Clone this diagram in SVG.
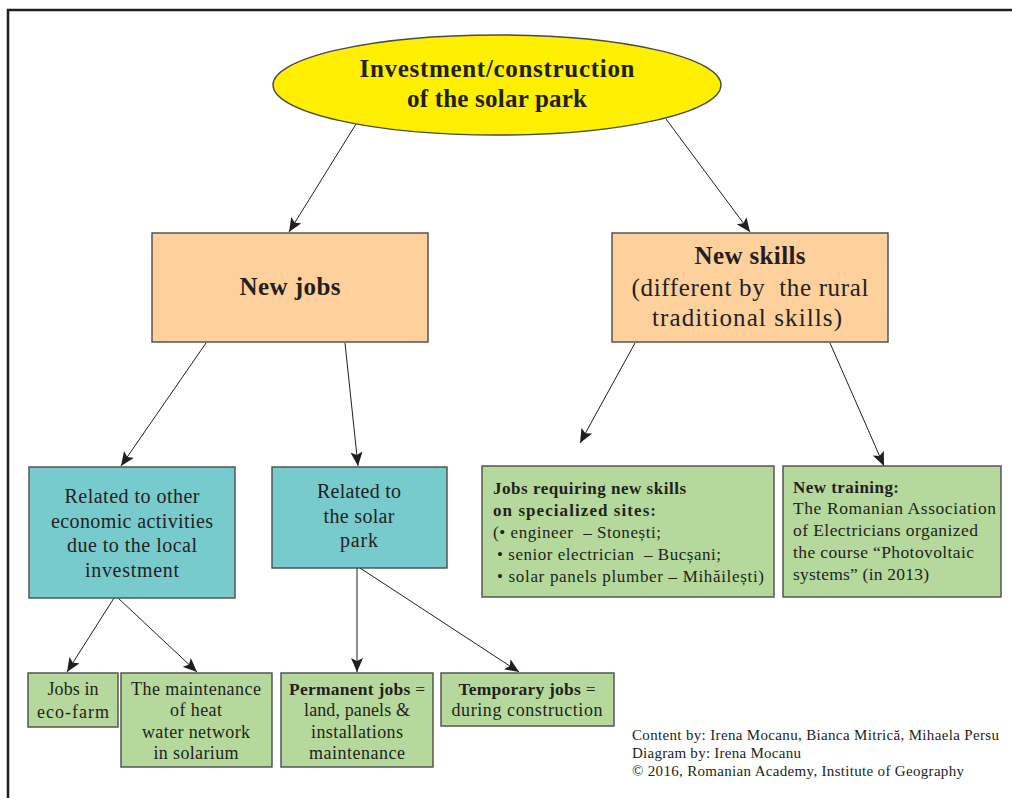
<svg xmlns="http://www.w3.org/2000/svg" width="1012" height="798" viewBox="0 0 1012 798">
<style>
text{font-family:"Liberation Serif","Times New Roman",serif;fill:#231f20;white-space:pre}
.b{font-weight:bold}
.c{text-anchor:middle}
.box{stroke:#4a4a4a;stroke-width:1.4}
.or{fill:#fed09c}
.te{fill:#78cbcd}
.gr{fill:#b5d99c}
.con{stroke:#231f20;stroke-width:1;fill:none;marker-end:url(#ah)}
</style>
<defs>
<marker id="ah" markerUnits="userSpaceOnUse" viewBox="0 0 14 12" markerWidth="14" markerHeight="12" refX="14" refY="6" orient="auto">
<path d="M0,0 L14,6 L0,12 L3,6 Z" fill="#231f20"/>
</marker>
</defs>
<rect width="1012" height="798" fill="#fff"/>
<path d="M8,800 L8,10 L1014,10" fill="none" stroke="#231f20" stroke-width="2.5"/>

<g id="connectors">
<line class="con" x1="356" y1="124" x2="289" y2="232"/>
<line class="con" x1="666" y1="119" x2="750" y2="232"/>
<line class="con" x1="206" y1="343" x2="121" y2="466"/>
<line class="con" x1="345" y1="343" x2="358" y2="466"/>
<line class="con" x1="635" y1="343" x2="580" y2="443"/>
<line class="con" x1="830" y1="343" x2="884" y2="466"/>
<line class="con" x1="114" y1="598" x2="67" y2="672"/>
<line class="con" x1="118" y1="598" x2="197" y2="672"/>
<line class="con" x1="357" y1="568" x2="357" y2="672"/>
<line class="con" x1="360" y1="568" x2="519" y2="672"/>
</g>

<g id="root">
<ellipse cx="497" cy="85" rx="224" ry="50" fill="#ffef00" stroke="#4a4a4a" stroke-width="1.4"/>
<text class="b c" x="497" y="77" font-size="25" textLength="275">Investment/construction</text>
<text class="b c" x="497" y="107" font-size="25" textLength="180">of the solar park</text>
</g>

<g id="new-jobs">
<rect class="box or" x="152" y="233" width="276" height="109"/>
<text class="b c" x="290" y="295" font-size="25" textLength="101">New jobs</text>
</g>

<g id="new-skills">
<rect class="box or" x="612" y="233" width="276" height="109"/>
<text class="b c" x="750" y="264" font-size="25" textLength="111">New skills</text>
<text class="c" x="750" y="296" font-size="25" textLength="237">(different by  the rural</text>
<text class="c" x="747" y="326" font-size="25" textLength="190">traditional skills)</text>
</g>

<g id="related-other">
<rect class="box te" x="29" y="467" width="206" height="131"/>
<text class="c" x="132" y="503" font-size="20" textLength="135">Related to other</text>
<text class="c" x="132" y="528" font-size="20" textLength="162">economic activities</text>
<text class="c" x="132" y="552" font-size="20" textLength="130">due to the local</text>
<text class="c" x="132" y="577" font-size="20" textLength="94">investment</text>
</g>

<g id="related-solar">
<rect class="box te" x="272" y="467" width="175" height="101"/>
<text class="c" x="359" y="498" font-size="20" textLength="84">Related to</text>
<text class="c" x="359" y="523" font-size="20" textLength="71">the solar</text>
<text class="c" x="359" y="547" font-size="20" textLength="38">park</text>
</g>

<g id="jobs-new-skills">
<rect class="box gr" x="482" y="466" width="292" height="131"/>
<text class="b" x="493" y="494" font-size="17" textLength="193">Jobs requiring new skills</text>
<text class="b" x="493" y="516" font-size="17" textLength="163">on specialized sites:</text>
<text x="493" y="538" font-size="17" textLength="168">(• engineer  – Stonești;</text>
<text x="497" y="560" font-size="17" textLength="224">• senior electrician  – Bucșani;</text>
<text x="497" y="582" font-size="17" textLength="267">• solar panels plumber – Mihăilești)</text>
</g>

<g id="new-training">
<rect class="box gr" x="783" y="466" width="218" height="131"/>
<text class="b" x="793" y="493" font-size="17" textLength="106">New training:</text>
<text x="793" y="514" font-size="17.5" textLength="203">The Romanian Association</text>
<text x="793" y="536" font-size="17.5" textLength="185">of Electricians organized</text>
<text x="793" y="558" font-size="17.5" textLength="181">the course “Photovoltaic</text>
<text x="793" y="580" font-size="17.5" textLength="136">systems” (in 2013)</text>
</g>

<g id="eco-farm">
<rect class="box gr" x="28" y="673" width="90" height="54"/>
<text class="c" x="73" y="695" font-size="18" textLength="51">Jobs in</text>
<text class="c" x="73" y="718" font-size="18" textLength="72">eco-farm</text>
</g>

<g id="maintenance">
<rect class="box gr" x="121" y="673" width="151" height="94"/>
<text class="c" x="196" y="695" font-size="18" textLength="130">The maintenance</text>
<text class="c" x="196" y="716" font-size="18" textLength="52">of heat</text>
<text class="c" x="196" y="738" font-size="18" textLength="108">water network</text>
<text class="c" x="196" y="759" font-size="18" textLength="85">in solarium</text>
</g>

<g id="permanent">
<rect class="box gr" x="281" y="673" width="152" height="94"/>
<text class="c" x="357" y="695" font-size="17.5" textLength="136"><tspan class="b">Permanent jobs</tspan> =</text>
<text class="c" x="357" y="716" font-size="18" textLength="106">land, panels &amp;</text>
<text class="c" x="357" y="738" font-size="18" textLength="92">installations</text>
<text class="c" x="357" y="759" font-size="18" textLength="96">maintenance</text>
</g>

<g id="temporary">
<rect class="box gr" x="441" y="673" width="173" height="53"/>
<text class="c" x="527" y="695" font-size="17.5" textLength="137"><tspan class="b">Temporary jobs</tspan> =</text>
<text class="c" x="527" y="716" font-size="18" textLength="151">during construction</text>
</g>

<g id="credits">
<text x="632" y="740" font-size="15" textLength="367">Content by: Irena Mocanu, Bianca Mitrică, Mihaela Persu</text>
<text x="632" y="758" font-size="15" textLength="169">Diagram by: Irena Mocanu</text>
<text x="632" y="776" font-size="15" textLength="332">© 2016, Romanian Academy, Institute of Geography</text>
</g>
</svg>
